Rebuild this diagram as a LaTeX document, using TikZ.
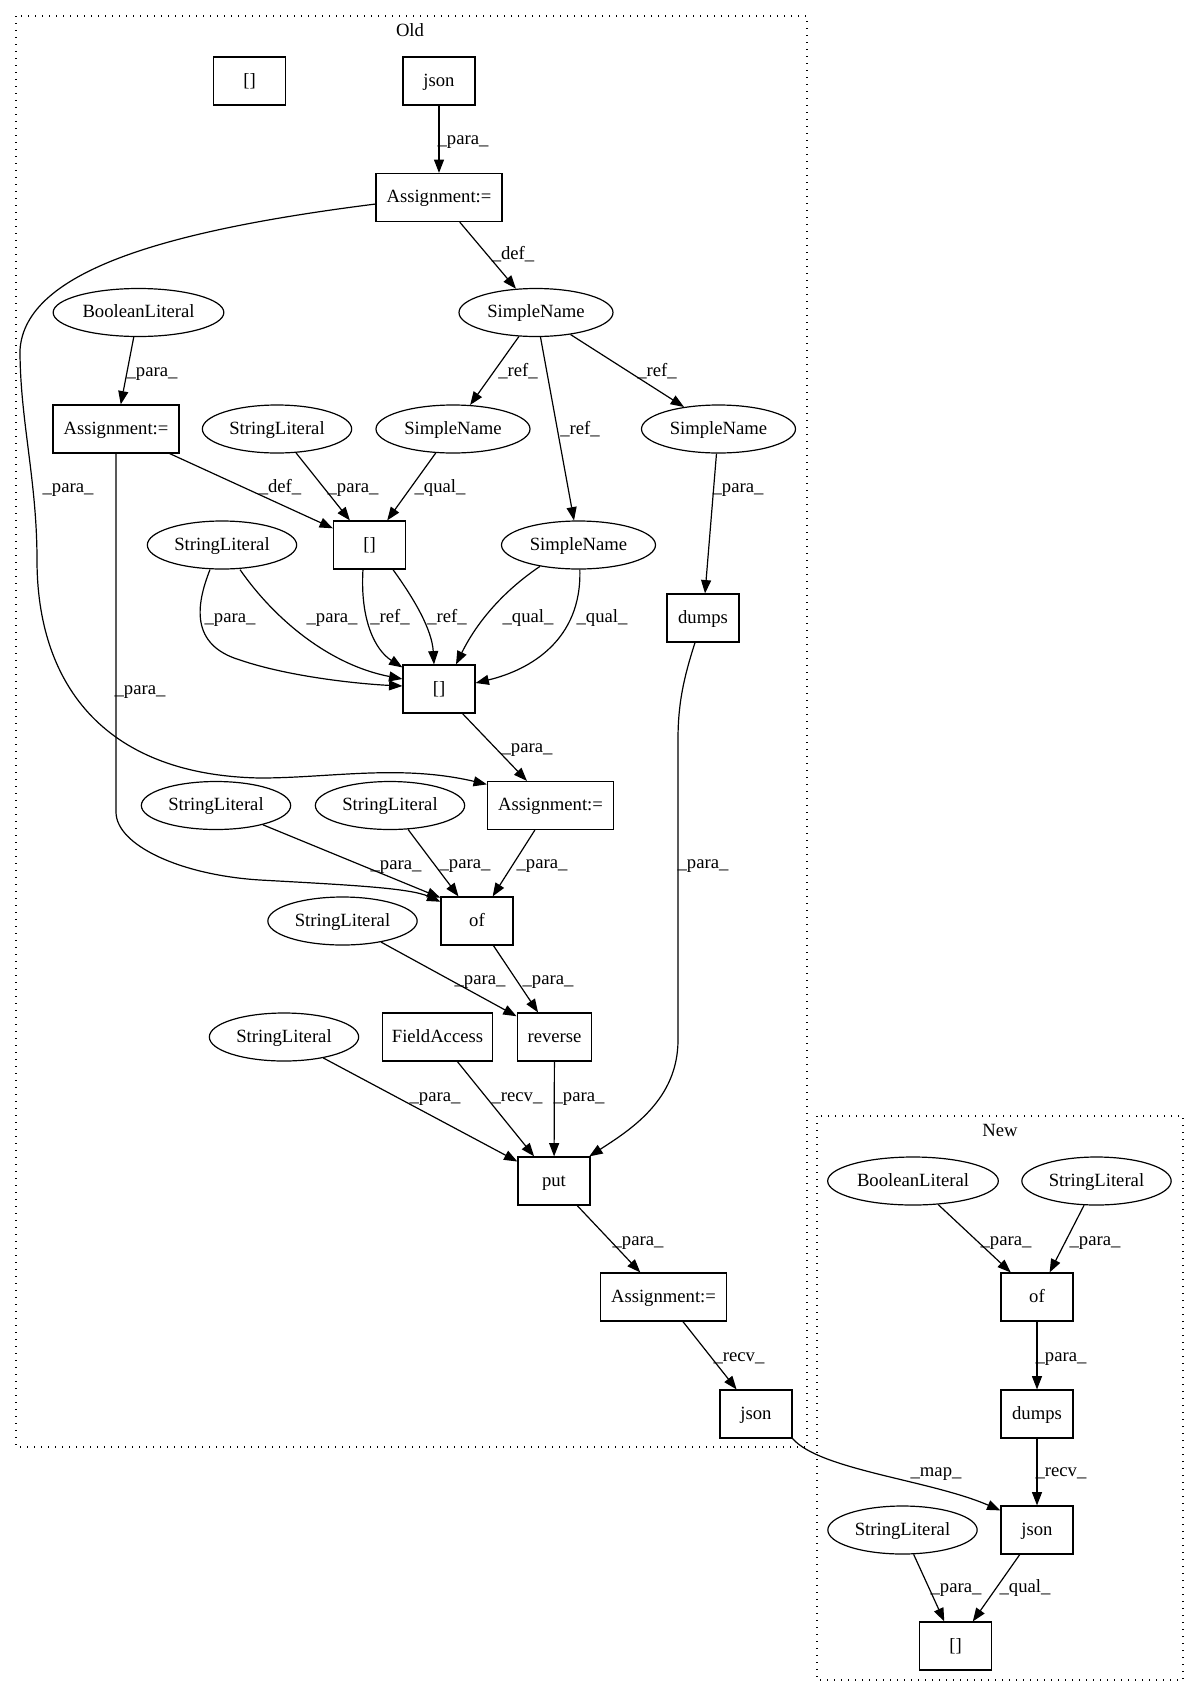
\documentclass[tikz,border=0pt]{standalone}
\usepackage{fontspec}
\setmainfont{Liberation Serif}
\usetikzlibrary{shapes.geometric,arrows.meta}
\begin{document}
\begin{tikzpicture}[x=0.75pt,y=-0.75pt,
  every node/.style={font=\fontsize{14pt}{16pt}\selectfont},
  box/.style={draw, rectangle, line width=0.9pt, minimum height=36pt, minimum width=54pt, inner sep=0pt, text height=10pt, text depth=2.5pt},
  oval/.style={draw, ellipse, line width=0.9pt, minimum height=36pt, inner sep=0pt, text height=10pt, text depth=2.5pt},
  asg/.style={box, minimum width=94.5pt},
  slit/.style={oval, minimum width=112pt},
  sname/.style={oval, minimum width=115.5pt},
  blit/.style={oval, minimum width=128pt},
  edge/.style={draw, line width=0.9pt, -{Triangle[length=10pt,width=7.5pt]}},
  lbl/.style={inner sep=0pt, text height=10pt, text depth=2.5pt},
  cluster/.style={draw, line width=1pt, dash pattern=on 1pt off 4.25pt}
]
\useasboundingbox (0,0) rectangle (1199,1696);

% clusters
\draw[cluster] (16,16) rectangle (807,1447);
\node (oldlbl) at (410,30) {Old};
\draw[cluster] (817,1116) rectangle (1183,1680);
\node (newlbl) at (1000,1130) {New};

% Old nodes
\node[box] (b0) at (249.5,81) {[]};
\node[box] (jsonA) at (439,81) {json};
\node[asg] (asg1) at (439,197.5) {Assignment:=};
\node[blit] (bool1) at (138.5,312.5) {BooleanLiteral};
\node[sname] (sn0) at (536,312.5) {SimpleName};
\node[asg] (asg2) at (116,429) {Assignment:=};
\node[slit] (sl1) at (277,429) {StringLiteral};
\node[sname] (sn1) at (453,429) {SimpleName};
\node[sname] (sn2) at (718.5,429) {SimpleName};
\node[slit] (sl2) at (222,545) {StringLiteral};
\node[box] (br1) at (369.5,545) {[]};
\node[sname] (sn3) at (578.5,545) {SimpleName};
\node[box] (dumps1) at (703,618) {dumps};
\node[box] (br2) at (439,689) {[]};
\node[slit] (sl3) at (216,805.5) {StringLiteral};
\node[slit] (sl4) at (390,805.5) {StringLiteral};
\node[asg] (asg3) at (550.5,805.5) {Assignment:=};
\node[box] (of1) at (477,921) {of};
\node[slit] (sl5) at (342.5,921) {StringLiteral};
\node[slit] (sl6) at (284,1037) {StringLiteral};
\node[box, minimum width=83pt] (fa) at (437.5,1037) {FieldAccess};
\node[box, minimum width=56pt] (rev) at (554.5,1037) {reverse};
\node[box] (put) at (554,1181) {put};
\node[asg] (asg4) at (663.5,1297) {Assignment:=};
\node[box] (jsonB) at (756,1414) {json};

% New nodes
\node[blit] (boolN) at (913,1181) {BooleanLiteral};
\node[slit] (slN1) at (1096.5,1181) {StringLiteral};
\node[box] (ofN) at (1037,1297) {of};
\node[box] (dumpsN) at (1037,1414) {dumps};
\node[box] (jsonN) at (1037,1530) {json};
\node[slit] (slN2) at (902.5,1530) {StringLiteral};
\node[box] (brN) at (955.5,1646) {[]};

% edges
\draw[edge] (jsonA) -- (asg1);
\draw[edge] (asg1) -- (sn0);
\draw[edge] ([yshift=-4.9pt]asg1.west) .. controls (170,230) and (25,270) .. (20,350)
  .. controls (20,420) and (37,480) .. (37,560)
  .. controls (37,680) and (100,775) .. (260,778)
  .. controls (330,778) and (400,764) .. ([yshift=-2.6pt]asg3.north west);
\draw[edge] (bool1) -- (asg2);
\draw[edge] (sn0) -- (sn1);
\draw[edge] (sn0) -- (sn3);
\draw[edge] (sn0) -- (sn2);
\draw[edge] (asg2) -- (br1);
\draw[edge] (sl1) -- (br1);
\draw[edge] (sn1) -- (br1);
\draw[edge] (asg2.south) -- (116,812) .. controls (116,845) and (180,875) .. (260,880)
  .. controls (350,885) and (410,888) .. ([yshift=-4pt]of1.north west);
\draw[edge] (sn2) -- (dumps1);
\draw[edge] ([xshift=-9pt]sl2.south) .. controls (196,605) and (190,645) .. (240,660)
  .. controls (290,677) and (360,684) .. ([yshift=2.25pt]br2.west);
\draw[edge] ([xshift=13.5pt]sl2.south) .. controls (275,620) and (330,665) .. ([yshift=7.5pt]br2.west);
\draw[edge] ([xshift=-4.9pt]br1.south) .. controls (360,620) and (375,650) .. ([yshift=-2.25pt]br2.north west);
\draw[edge] ([xshift=17.6pt]br1.south) .. controls (415,600) and (432,630) .. ([xshift=-3.75pt]br2.north);
\draw[edge] (sn3.209) .. controls (505,590) and (478,620) .. ([xshift=12.75pt]br2.north);
\draw[edge] ([xshift=1pt]sn3.south) .. controls (582,640) and (530,670) .. ([yshift=4.5pt]br2.east);
\draw[edge] (br2) -- (asg3);
\draw[edge] (sl3) -- ([yshift=-1pt]of1.north west);
\draw[edge] (sl4) -- (of1);
\draw[edge] (asg3) -- (of1);
\draw[edge] (sl5) -- (rev);
\draw[edge] (of1) -- (rev);
\draw[edge] (sl6) -- (put);
\draw[edge] (fa) -- (put);
\draw[edge] (rev) -- (put);
\draw[edge] ([xshift=-6pt]dumps1.south) .. controls (683,680) and (678,705) .. (678,740) -- (678,1040)
  .. controls (678,1100) and (630,1130) .. ([xshift=-1pt]put.north east);
\draw[edge] (put) -- (asg4);
\draw[edge] (asg4) -- (jsonB);
\draw[edge] (jsonB.south east) .. controls (820,1470) and (930,1480) .. ([yshift=-3.75pt]jsonN.north west);
\draw[edge] (boolN) -- (ofN);
\draw[edge] (slN1) -- (ofN);
\draw[edge] (ofN) -- (dumpsN);
\draw[edge] (dumpsN) -- (jsonN);
\draw[edge] (slN2) -- (brN);
\draw[edge] (jsonN) -- (brN);

% labels
\node[lbl] (l1) at (463,139) {\_para\_};
\node[lbl] (l2) at (513,254) {\_def\_};
\node[lbl] (l3) at (68,487) {\_para\_};
\node[lbl] (l4) at (152,371) {\_para\_};
\node[lbl] (l5) at (518,371) {\_ref\_};
\node[lbl] (l6) at (580,429) {\_ref\_};
\node[lbl] (l7) at (657,371) {\_ref\_};
\node[lbl] (l8) at (280,487) {\_def\_};
\node[lbl] (l9) at (353,487) {\_para\_};
\node[lbl] (l10) at (440,487) {\_qual\_};
\node[lbl] (l11) at (140,689) {\_para\_};
\node[lbl] (l12) at (738,487) {\_para\_};
\node[lbl] (l13) at (230,617) {\_para\_};
\node[lbl] (l14) at (332,617) {\_para\_};
\node[lbl] (l15) at (390,617) {\_ref\_};
\node[lbl] (l16) at (447,617) {\_ref\_};
\node[lbl] (l17) at (528,617) {\_qual\_};
\node[lbl] (l18) at (602,617) {\_qual\_};
\node[lbl] (l19) at (527,747) {\_para\_};
\node[lbl] (l20) at (396,864) {\_para\_};
\node[lbl] (l21) at (465,863) {\_para\_};
\node[lbl] (l22) at (542,863) {\_para\_};
\node[lbl] (l23) at (480,979) {\_para\_};
\node[lbl] (l24) at (548,979) {\_para\_};
\node[lbl] (l25) at (435,1096) {\_para\_};
\node[lbl] (l26) at (517,1096) {\_recv\_};
\node[lbl] (l27) at (579,1096) {\_para\_};
\node[lbl] (l28) at (703,863) {\_para\_};
\node[lbl] (l29) at (638,1240) {\_para\_};
\node[lbl] (l30) at (739,1356) {\_recv\_};
\node[lbl] (l31) at (936,1471) {\_map\_};
\node[lbl] (l32) at (1006,1240) {\_para\_};
\node[lbl] (l33) at (1095,1240) {\_para\_};
\node[lbl] (l34) at (1061,1356) {\_para\_};
\node[lbl] (l35) at (1061,1471) {\_recv\_};
\node[lbl] (l36) at (956,1587) {\_para\_};
\node[lbl] (l37) at (1025,1587) {\_qual\_};
\end{tikzpicture}
\end{document}
